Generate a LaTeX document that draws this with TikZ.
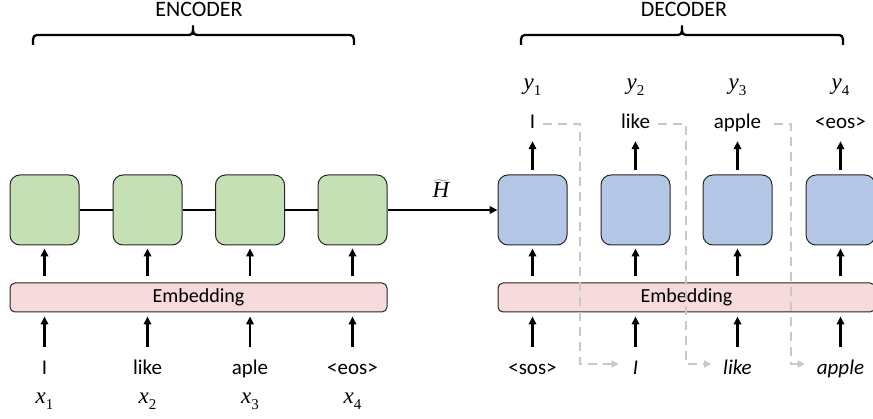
\RequirePackage{fix-cm}
\documentclass[tikz,border=0pt]{standalone}
\usepackage{fontspec}
\setmainfont{Carlito}
\newfontfamily\mfont{Liberation Serif}
\newcommand{\msub}[2]{{\mfont\itshape #1}\raisebox{-0.22em}{\mfont\fontsize{15}{18}\selectfont #2}}
\usetikzlibrary{arrows.meta}
\definecolor{encgreen}{HTML}{C5E0B4}
\definecolor{decblue}{HTML}{B4C7E7}
\definecolor{embpink}{HTML}{F7DADB}
\definecolor{dashgray}{HTML}{C8C8C8}
\begin{document}
\begin{tikzpicture}[x=1pt,y=-1pt,
  font=\fontsize{21}{25}\selectfont,
  cell/.style={draw=black!85, line width=1pt, rounded corners=10pt, minimum width=69pt, minimum height=70pt, inner sep=0pt},
  enc/.style={cell, fill=encgreen},
  dec/.style={cell, fill=decblue},
  embbox/.style={draw=black!85, line width=1pt, fill=embpink, rounded corners=5pt, minimum width=377pt, minimum height=29pt, inner sep=0pt, font=\fontsize{20}{24}\selectfont},
  word/.style={anchor=base, inner sep=0pt, text height=15pt, text depth=5pt},
  lbl/.style={anchor=base, inner sep=0pt},
  mlbl/.style={anchor=base, inner sep=0pt, font=\fontsize{23}{27}\selectfont},
  arr/.style={line width=2.2pt, -{Triangle[length=8pt,width=7.5pt]}},
  fb/.style={draw=dashgray, line width=2pt, dash pattern=on 9pt off 6pt, -{Triangle[length=7pt,width=7pt]}},
  bracepath/.style={line width=2.3pt, line join=round},
]
\useasboundingbox (0,0) rectangle (873,419);

% titles and braces
\node[lbl, font=\fontsize{22}{26}\selectfont] (enct) at (199,17) {ENCODER};
\node[lbl, font=\fontsize{22}{26}\selectfont] (dect) at (684,17) {DECODER};
\draw[bracepath] (33,45) .. controls (33,35) and (33,35) .. (41,35) -- (185,35)
  .. controls (193,35) and (193,35) .. (193,26) .. controls (193,35) and (193,35) .. (201,35)
  -- (346,35) .. controls (354,35) and (354,35) .. (354,45);
\draw[bracepath] (521,45) .. controls (521,35) and (521,35) .. (529,35) -- (674,35)
  .. controls (682,35) and (682,35) .. (682,26) .. controls (682,35) and (682,35) .. (690,35)
  -- (835,35) .. controls (843,35) and (843,35) .. (843,45);

% encoder cells
\node[enc] (e1) at (44.5,210) {};
\node[enc] (e2) at (147.5,210) {};
\node[enc] (e3) at (250,210) {};
\node[enc] (e4) at (352.5,210) {};
% decoder cells
\node[dec] (d1) at (532.5,210) {};
\node[dec] (d2) at (635.5,210) {};
\node[dec] (d3) at (737.5,210) {};
\node[dec] (d4) at (840.5,210) {};

% embeddings
\node[embbox] (emb1) at (198.5,297.5) {Embedding};
\node[embbox] (emb2) at (686.5,297.5) {Embedding};

% encoder words
\node[word] (w1) at (44.5,375) {I};
\node[word] (w2) at (147.5,375) {like};
\node[word] (w3) at (250,375) {aple};
\node[word] (w4) at (352.5,375) {<eos>};
\node[mlbl] (x1) at (44.5,404) {\msub{x}{1}};
\node[mlbl] (x2) at (147.5,404) {\msub{x}{2}};
\node[mlbl] (x3) at (250,404) {\msub{x}{3}};
\node[mlbl] (x4) at (352.5,404) {\msub{x}{4}};

% decoder inputs
\node[word] (i1) at (532.5,375) {<sos>};
\node[word] (i2) at (635.5,375) {\textit{I}};
\node[word] (i3) at (737.5,375) {\textit{like}};
\node[word] (i4) at (840.5,375) {\textit{apple}};

% decoder outputs
\node[word] (o1) at (532.5,129) {I};
\node[word] (o2) at (635.5,129) {like};
\node[word] (o3) at (737.5,129) {apple};
\node[word] (o4) at (840.5,129) {<eos>};
\node[mlbl] (y1) at (532.5,90) {\msub{y}{1}};
\node[mlbl] (y2) at (635.5,90) {\msub{y}{2}};
\node[mlbl] (y3) at (737.5,90) {\msub{y}{3}};
\node[mlbl] (y4) at (840.5,90) {\msub{y}{4}};

% H tilde
\node[mlbl] (ht) at (441,198) {$\widetilde{\hbox{\mfont\itshape H}}$};

% encoder chain
\draw[line width=2.2pt] (e1) -- (e2);
\draw[line width=2.2pt] (e2) -- (e3);
\draw[line width=2.2pt] (e3) -- (e4);
\draw[arr] (e4) -- (d1);

% arrows embedding -> cells
\foreach \c/\m in {e1/emb1,e2/emb1,e3/emb1,e4/emb1,d1/emb2,d2/emb2,d3/emb2,d4/emb2}
  \draw[arr, shorten <=6pt, shorten >=3pt] (\c.south |- \m.north) -- (\c.south);
% arrows words -> embedding
\foreach \w/\m in {w1/emb1,w2/emb1,w3/emb1,w4/emb1,i1/emb2,i2/emb2,i3/emb2,i4/emb2}
  \draw[arr, shorten <=13pt, shorten >=4pt] (\w.north) -- (\w.north |- \m.south);
% arrows cells -> outputs
\foreach \c/\o in {d1/o1,d2/o2,d3/o3,d4/o4}
  \draw[arr, shorten <=4pt, shorten >=7pt] (\c.north) -- (\c.north |- \o.south);

% feedback dashed
\coordinate (k1) at (580,364);
\coordinate (k2) at (686,364);
\coordinate (k3) at (791,364);
\draw[fb, shorten <=8pt, shorten >=14pt] (o1.east) -| (k1) -- (k1 -| i2.west);
\draw[fb, shorten <=8pt, shorten >=12pt] (o2.east) -| (k2) -- (k2 -| i3.west);
\draw[fb, shorten <=13pt, shorten >=12pt] (o3.east) -| (k3) -- (k3 -| i4.west);
\end{tikzpicture}
\end{document}
